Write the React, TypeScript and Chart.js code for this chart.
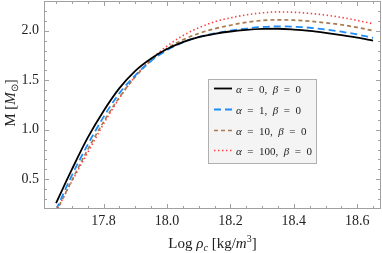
import React, { useEffect, useRef } from "react";
import { Chart, registerables } from "chart.js";

Chart.register(...registerables);

const logRho = [17.65, 17.7, 17.75, 17.8, 17.85, 17.9, 17.95, 18.0, 18.05, 18.1, 18.15, 18.2, 18.25, 18.3, 18.35, 18.4, 18.45, 18.5, 18.55, 18.6, 18.65];
const massA0 = [0.26, 0.6, 0.92, 1.19, 1.42, 1.595, 1.72, 1.815, 1.885, 1.935, 1.968, 1.992, 2.008, 2.018, 2.02, 2.012, 1.998, 1.978, 1.955, 1.93, 1.9];
const massA1 = [0.19, 0.54, 0.85, 1.13, 1.37, 1.55, 1.695, 1.805, 1.882, 1.937, 1.972, 2.0, 2.022, 2.038, 2.044, 2.04, 2.03, 2.012, 1.99, 1.962, 1.928];
const massA10 = [0.17, 0.49, 0.8, 1.08, 1.33, 1.535, 1.7, 1.82, 1.908, 1.972, 2.02, 2.055, 2.085, 2.103, 2.11, 2.106, 2.096, 2.08, 2.06, 2.033, 2.0];
const massA100 = [0.17, 0.48, 0.77, 1.06, 1.32, 1.54, 1.71, 1.845, 1.95, 2.03, 2.09, 2.13, 2.16, 2.18, 2.19, 2.186, 2.175, 2.158, 2.134, 2.104, 2.07];

const seriesLabels = ["0", "1", "10", "100"];
const xTicks = [17.8, 18.0, 18.2, 18.4, 18.6];
const yTicks = [0.5, 1.0, 1.5, 2.0];

const SERIF = "'Liberation Serif', 'Times New Roman', serif";

const styles = [
  { color: "#000000", dash: [] as number[], width: 1.8 },
  { color: "#1f8ef7", dash: [7, 4], width: 1.8 },
  { color: "#a87a50", dash: [4, 3], width: 1.7 },
  { color: "#ff3b3b", dash: [1.4, 2.6], width: 1.6 },
];

type Piece = { t: string; italic?: boolean; size?: number; dy?: number };

function drawPieces(ctx: CanvasRenderingContext2D, pieces: Piece[], x: number, y: number, base: number, align: "left" | "center") {
  const widths = pieces.map((p) => {
    ctx.font = `${p.italic ? "italic " : ""}${p.size ?? base}px ${SERIF}`;
    return ctx.measureText(p.t).width;
  });
  const total = widths.reduce((a, b) => a + b, 0);
  let cx = align === "center" ? x - total / 2 : x;
  pieces.forEach((p, i) => {
    ctx.font = `${p.italic ? "italic " : ""}${p.size ?? base}px ${SERIF}`;
    ctx.textAlign = "left";
    ctx.textBaseline = "alphabetic";
    ctx.fillText(p.t, cx, y + (p.dy ?? 0));
    cx += widths[i];
  });
}

const framePlugin = {
  id: "framePlugin",
  afterDraw(chart: any) {
    const ctx: CanvasRenderingContext2D = chart.ctx;
    const { left, right, top, bottom } = chart.chartArea;
    const xs = chart.scales.x;
    const ys = chart.scales.y;
    ctx.save();
    // frame
    ctx.strokeStyle = "#a0a0a0";
    ctx.lineWidth = 1;
    ctx.strokeRect(left + 0.5, top + 0.5, right - left - 1, bottom - top - 1);
    // ticks
    ctx.beginPath();
    for (let i = 353; i <= 373; i++) {
      const v = i / 20;
      const px = Math.round(xs.getPixelForValue(v)) + 0.5;
      if (px < left || px > right) continue;
      const major = i % 4 === 0;
      const len = major ? 5 : 3;
      ctx.moveTo(px, bottom);
      ctx.lineTo(px, bottom - len);
      ctx.moveTo(px, top);
      ctx.lineTo(px, top + len);
    }
    for (let i = 2; i <= 23; i++) {
      const v = i / 10;
      const py = Math.round(ys.getPixelForValue(v)) + 0.5;
      if (py < top || py > bottom) continue;
      const major = i % 5 === 0;
      const len = major ? 5 : 3;
      ctx.moveTo(left, py);
      ctx.lineTo(left + len, py);
      ctx.moveTo(right, py);
      ctx.lineTo(right - len, py);
    }
    ctx.stroke();

    // legend
    const lx = 208.5, ly = 79.5, lw = 108, lh = 84;
    ctx.fillStyle = "#f4f4f4";
    ctx.fillRect(lx, ly, lw, lh);
    ctx.strokeStyle = "#b0b0b0";
    ctx.strokeRect(lx, ly, lw, lh);
    const rowY = [88.5, 109.5, 130.5, 150.5];
    chart.data.datasets.forEach((ds: any, i: number) => {
      const st = styles[i];
      ctx.beginPath();
      ctx.setLineDash(st.dash);
      ctx.strokeStyle = st.color;
      ctx.lineWidth = st.width;
      ctx.moveTo(214, rowY[i]);
      ctx.lineTo(232, rowY[i]);
      ctx.stroke();
      ctx.setLineDash([]);
      ctx.fillStyle = "#222";
      drawPieces(
        ctx,
        [
          { t: "α", italic: true },
          { t: "  =  " },
          { t: seriesLabels[i] + ",  " },
          { t: "β", italic: true },
          { t: "  =  " },
          { t: "0" },
        ],
        236,
        rowY[i] + 4,
        11,
        "left"
      );
    });

    // axis titles
    ctx.fillStyle = "#222";
    drawPieces(
      ctx,
      [
        { t: "Log " },
        { t: "ρ", italic: true },
        { t: "c", italic: true, size: 10, dy: 3 },
        { t: " [kg/" },
        { t: "m", italic: true },
        { t: "3", size: 10, dy: -6 },
        { t: "]" },
      ],
      (left + right) / 2,
      248,
      15,
      "center"
    );
    ctx.save();
    ctx.translate(15, 103);
    ctx.rotate(-Math.PI / 2);
    drawPieces(
      ctx,
      [
        { t: "M [" },
        { t: "M", italic: true },
        { t: "⊙", size: 10, dy: 3 },
        { t: "]" },
      ],
      0,
      0,
      15,
      "center"
    );
    ctx.restore();
    ctx.restore();
  },
};

export default function App() {
  const ref = useRef<HTMLCanvasElement | null>(null);
  useEffect(() => {
    document.body.style.margin = "0";
    const masses = [massA0, massA1, massA10, massA100];
    const chart = new Chart(ref.current!, {
      type: "line",
      data: {
        datasets: masses.map((m, i) => ({
          label: `α = ${seriesLabels[i]}, β = 0`,
          data: logRho.map((x, j) => ({ x, y: m[j] })),
          borderColor: styles[i].color,
          borderDash: styles[i].dash,
          borderWidth: styles[i].width,
          pointRadius: 0,
          fill: false,
          cubicInterpolationMode: "monotone" as const,
        })),
      },
      options: {
        animation: false,
        responsive: false,
        maintainAspectRatio: false,
        layout: { padding: { top: 1, right: 1, left: 0, bottom: 0 } },
        plugins: { legend: { display: false }, tooltip: { enabled: false } },
        scales: {
          x: {
            type: "linear",
            min: 17.612,
            max: 18.675,
            grid: { display: false, drawTicks: false },
            border: { display: false },
            afterBuildTicks: (axis: any) => {
              axis.ticks = xTicks.map((v) => ({ value: v }));
            },
            afterFit: (scale: any) => {
              scale.height = 44;
              scale.paddingLeft = 0;
              scale.paddingRight = 0;
            },
            ticks: {
              padding: 4,
              color: "#222",
              font: { family: SERIF, size: 14 },
              maxRotation: 0,
              callback: (v: any) => Number(v).toFixed(1),
            },
          },
          y: {
            type: "linear",
            min: 0.2,
            max: 2.3,
            grid: { display: false, drawTicks: false },
            border: { display: false },
            afterBuildTicks: (axis: any) => {
              axis.ticks = yTicks.map((v) => ({ value: v }));
            },
            afterFit: (scale: any) => {
              scale.width = 44;
              scale.paddingTop = 0;
              scale.paddingBottom = 0;
            },
            ticks: {
              padding: 5,
              color: "#222",
              font: { family: SERIF, size: 14 },
              callback: (v: any) => Number(v).toFixed(1),
            },
          },
        },
      },
      plugins: [framePlugin],
    });
    return () => chart.destroy();
  }, []);
  return (
    <div style={{ width: 382, height: 253 }}>
      <canvas ref={ref} width={382} height={253} style={{ display: "block" }} />
    </div>
  );
}
